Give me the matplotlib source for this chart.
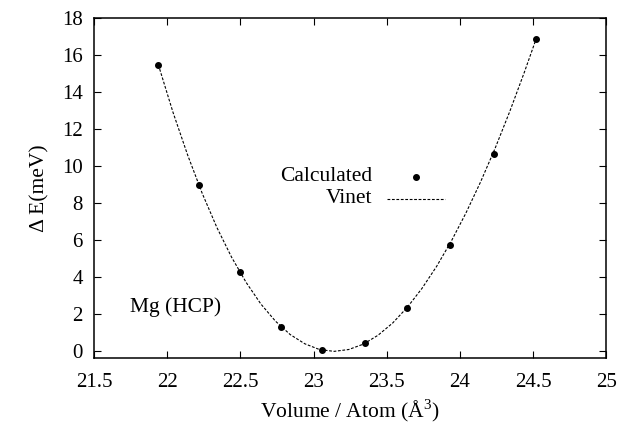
import numpy as np
import matplotlib.pyplot as plt

plt.rcParams['font.family'] = ['Liberation Serif', 'DejaVu Serif']
plt.rcParams['mathtext.fontset'] = 'custom'
plt.rcParams['mathtext.rm'] = 'Liberation Serif'

# calculated points
vol = [21.94, 22.22, 22.50, 22.78, 23.06, 23.35, 23.64, 23.93, 24.23, 24.52]
dE = [15.5, 8.99, 4.28, 1.33, 0.06, 0.43, 2.34, 5.75, 10.64, 16.9]

# Vinet curve
vin_v = [21.94, 22.04, 22.14, 22.24, 22.34, 22.44, 22.54, 22.64, 22.74,
         22.84, 22.94, 23.04, 23.14, 23.24, 23.34, 23.44, 23.54, 23.64,
         23.74, 23.84, 23.94, 24.04, 24.14, 24.24, 24.34, 24.44, 24.52]
vin_e = [15.49, 12.92, 10.61, 8.53, 6.69, 5.09, 3.72, 2.56, 1.63,
         0.91, 0.41, 0.10, 0.0, 0.10, 0.39, 0.87, 1.53, 2.38,
         3.40, 4.59, 5.95, 7.47, 9.15, 10.98, 12.97, 15.10, 16.89]

xticks = [21.5, 22, 22.5, 23, 23.5, 24, 24.5, 25]
xticklabels = ['21.5', '22', '22.5', '23', '23.5', '24', '24.5', '25']
yticks = [0, 2, 4, 6, 8, 10, 12, 14, 16, 18]

fig = plt.figure(figsize=(6.22, 4.26), dpi=100)
ax = fig.add_axes([0.151, 0.160, 0.824, 0.797])

ax.plot(vin_v, vin_e, color='black', lw=0.8, dashes=(2.5, 1.5))
ax.plot(vol, dE, 'o', color='black', ms=4)

ax.set_xlim(21.5, 25)
ax.set_ylim(-0.35, 18)
ax.set_xticks(xticks)
ax.set_xticklabels(xticklabels)
ax.set_yticks(yticks)
ax.tick_params(direction='in', length=5, width=0.8, top=True, right=True,
               labelsize=15)
ax.tick_params(axis='x', pad=11)
ax.tick_params(axis='y', pad=8)
for s in ax.spines.values():
    s.set_linewidth(1.1)

ax.set_xlabel('Volume / Atom (Å$^{3}$)', fontsize=15.5)
ax.set_ylabel('Δ E(meV)', fontsize=15.5)
ax.xaxis.set_label_coords(0.5, -0.115)
ax.yaxis.set_label_coords(-0.086, 0.5)

# key, gnuplot style
ax.text(0.544, 0.533, 'Calculated', transform=ax.transAxes, ha='right',
        va='center', fontsize=15.5)
ax.plot([0.628], [0.533], 'o', color='black', ms=4, transform=ax.transAxes)
ax.text(0.544, 0.468, 'Vinet', transform=ax.transAxes, ha='right',
        va='center', fontsize=15.5)
ax.plot([0.572, 0.685], [0.468, 0.468], color='black', lw=0.8,
        dashes=(2.5, 1.5), transform=ax.transAxes)

ax.text(0.070, 0.150, 'Mg (HCP)', transform=ax.transAxes, ha='left',
        va='center', fontsize=15.5)

fig.savefig('out.png', dpi=100)
